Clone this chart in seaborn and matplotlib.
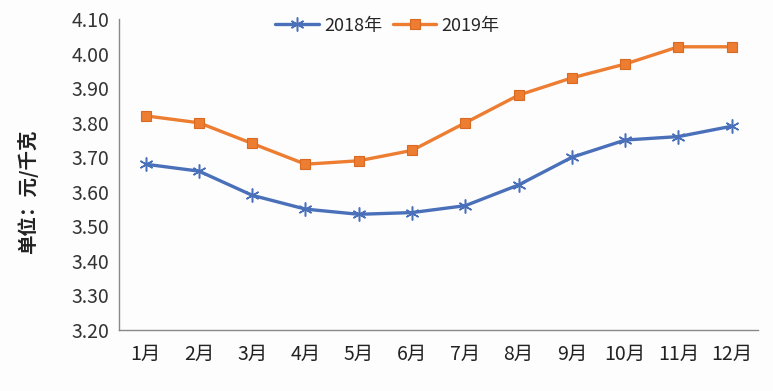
import matplotlib

matplotlib.use("Agg")
import matplotlib.pyplot as plt
import numpy as np
import seaborn as sns

MONTHS = ["1月", "2月", "3月", "4月", "5月", "6月", "7月", "8月", "9月", "10月", "11月", "12月"]
PRICE_2018 = [3.68, 3.66, 3.59, 3.55, 3.535, 3.54, 3.56, 3.62, 3.70, 3.75, 3.76, 3.79]
PRICE_2019 = [3.82, 3.80, 3.74, 3.68, 3.69, 3.72, 3.80, 3.88, 3.93, 3.97, 4.02, 4.02]
SERIES = ["2018年", "2019年"]
Y_TICKS = [3.20, 3.30, 3.40, 3.50, 3.60, 3.70, 3.80, 3.90, 4.00, 4.10]

COLORS = {"2018年": "#4A70BA", "2019年": "#ED7D31"}

sns.set_style("white")
plt.rcParams["font.family"] = ["Noto Sans CJK SC", "DejaVu Sans"]

fig = plt.figure(figsize=(7.73, 3.91), dpi=100)
fig.patch.set_facecolor("#fdfdfe")
ax = fig.add_axes([0.154, 0.156, 0.827, 0.795])
ax.set_facecolor("#fdfdfe")

pos = list(range(len(MONTHS)))
# asterisk markers for 2018, squares for 2019
sns.lineplot(x=pos, y=PRICE_2018, color=COLORS["2018年"], marker=(6, 2, 0),
             markersize=10, markeredgewidth=1.1, markeredgecolor=COLORS["2018年"],
             linewidth=2.4, label=SERIES[0], ax=ax)
sns.lineplot(x=pos, y=PRICE_2019, color=COLORS["2019年"], marker="s",
             markersize=7.5, markeredgewidth=0.8, markeredgecolor="#d86a22",
             linewidth=2.4, label=SERIES[1], ax=ax)

ax.set_xlim(-0.5, len(MONTHS) - 0.5)
ax.set_ylim(3.20, 4.10)
ax.set_yticks(Y_TICKS)
ax.set_yticklabels([f"{v:.2f}" for v in Y_TICKS], fontsize=14, color="#333333")
ax.set_xticks(pos)
ax.set_xticklabels(MONTHS, fontsize=14, color="#222222")
ax.set_xticks(np.arange(-0.5, len(MONTHS), 1.0), minor=True)
ax.tick_params(axis="x", which="major", length=0, pad=10)
ax.tick_params(axis="x", which="minor", direction="in", length=5, color="#888888", width=1)
ax.tick_params(axis="y", which="major", direction="out", length=5, color="#888888", width=1, pad=2)

for side in ["top", "right"]:
    ax.spines[side].set_visible(False)
for side in ["left", "bottom"]:
    ax.spines[side].set_color("#888888")
    ax.spines[side].set_linewidth(1)

ax.set_xlabel("")
ax.set_ylabel("单位：元/千克", fontsize=14, fontweight="bold", color="#222222")
ax.yaxis.set_label_coords(-0.126, 0.445)

handles, labels = ax.get_legend_handles_labels()
ax.legend(handles, labels, loc="upper center", bbox_to_anchor=(0.42, 1.06), ncol=2,
          frameon=False, fontsize=13, handlelength=2.4, columnspacing=0.6, handletextpad=0.3)

fig.savefig("out.png", dpi=100, facecolor=fig.get_facecolor())
